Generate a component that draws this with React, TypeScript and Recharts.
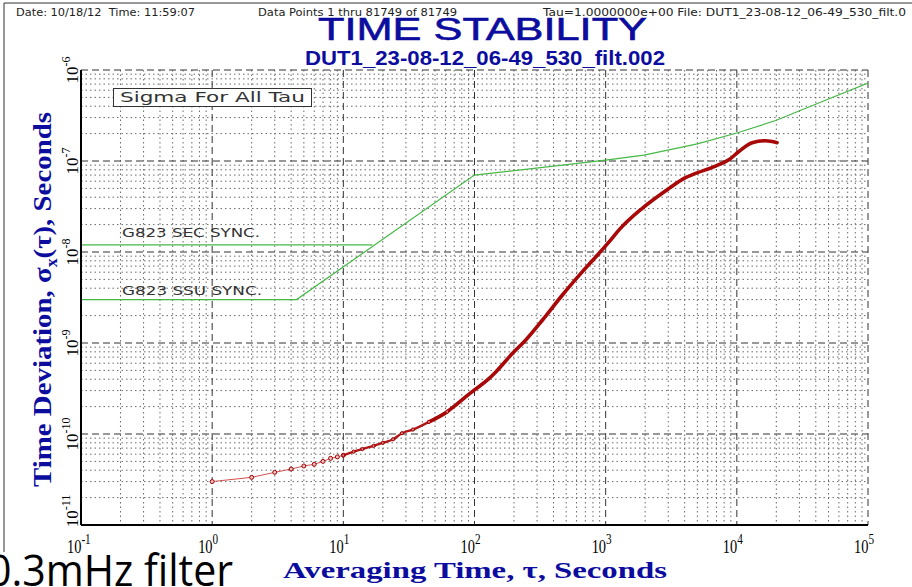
import React from "react";
import {
  LineChart,
  Line,
  XAxis,
  YAxis,
  CartesianGrid,
} from "recharts";

// decade ticks, labels are "10" + exponent
const xTickVals = [0.1, 1, 10, 100, 1000, 10000, 100000];
const xTickExp = ["-1", "0", "1", "2", "3", "4", "5"];
const yTickVals = [1e-11, 1e-10, 1e-9, 1e-8, 1e-7, 1e-6];
const yTickExp = ["-11", "-10", "-9", "-8", "-7", "-6"];

// measured TDEV, sparse start (markers visible)
const earlyTau = [1, 2, 3, 4, 5, 6, 7, 8, 9, 10];
const earlySigma = [
  3.0e-11, 3.34e-11, 3.79e-11, 4.12e-11, 4.45e-11, 4.64e-11, 5.0e-11, 5.4e-11,
  5.6e-11, 5.84e-11,
];

// markers start to crowd together
const midTau = [10, 12, 14, 17, 20, 24, 28, 34, 45, 62];
const midSigma = [
  5.84e-11, 6.4e-11, 6.84e-11, 7.4e-11, 8.0e-11, 8.75e-11, 1.02e-10, 1.12e-10,
  1.36e-10, 1.76e-10,
];

// measured TDEV, dense part (markers merge into a thick trace)
const denseTau = [
  45, 62, 72, 86, 100, 125, 146, 195, 246, 330, 468, 665, 891, 1094, 1265,
  1900, 3040, 3960, 4850, 6890, 8690, 10360, 13090, 16530, 20270,
];
const denseSigma = [
  1.36e-10, 1.76e-10, 2.08e-10, 2.57e-10, 3.05e-10, 3.9e-10, 4.84e-10,
  7.7e-10, 1.08e-9, 1.79e-9, 3.37e-9, 6.08e-9, 9.7e-9, 1.36e-8, 1.75e-8,
  3.02e-8, 5.0e-8, 6.45e-8, 7.3e-8, 8.8e-8, 1.03e-7, 1.27e-7, 1.59e-7,
  1.67e-7, 1.59e-7,
];

// G.823 masks
const ssuTau = [0.1, 4.4, 100, 1000, 1960, 5000, 10000, 20000, 50000, 100000];
const ssuSigma = [
  3e-9, 3e-9, 7.0e-8, 1.02e-7, 1.16e-7, 1.54e-7, 2.03e-7, 2.8e-7, 4.8e-7,
  7.2e-7,
];
const secTau = [0.1, 16.7];
const secSigma = [1.2e-8, 1.2e-8];

const zip = (t: number[], v: number[]) => t.map((tt, i) => ({ t: tt, v: v[i] }));

const minorX: number[] = [];
for (let d = -1; d < 5; d++) for (let m = 2; m <= 9; m++) minorX.push(m * Math.pow(10, d));
const minorY: number[] = [];
for (let d = -11; d < -6; d++) for (let m = 2; m <= 9; m++) minorY.push(m * Math.pow(10, d));

const SERIF = "'Liberation Serif', 'DejaVu Serif', serif";
const SANS = "'Liberation Sans', Arial, sans-serif";
const BLUE = "#0c0c9e";
const GREEN = "#45b845";

function XTick(props: any) {
  const { x, payload } = props;
  const i = xTickVals.indexOf(payload.value);
  // "10" ends at the tick, exponent hangs to the right
  return (
    <g transform={`translate(${x - 14} 553) scale(0.8 1)`}>
      <text x={0} y={0} fontFamily={SERIF} fontSize={18} fill="#000">
        10
        <tspan dy={-9} fontSize={14}>
          {xTickExp[i]}
        </tspan>
      </text>
    </g>
  );
}

function YTick(props: any) {
  const { y, payload } = props;
  const i = yTickVals.findIndex((v) => Math.abs(Math.log10(v) - Math.log10(payload.value)) < 1e-6);
  // bottom label is lifted so it stays inside the frame
  const cy = i === 0 ? y - 14 : y;
  return (
    <g transform={`translate(78 ${cy}) rotate(-90)`}>
      <text x={0} y={0} textAnchor="middle" fontFamily={SERIF} fontSize={17} fill="#000">
        10
        <tspan dy={-8} fontSize={12}>
          {yTickExp[i]}
        </tspan>
      </text>
    </g>
  );
}

export default function App() {
  return (
    <div
      style={{
        position: "fixed",
        left: 0,
        top: 0,
        width: 912,
        height: 587,
        background: "#fff",
        overflow: "hidden",
      }}
    >
      <LineChart
        width={912}
        height={587}
        margin={{ top: 70, right: 44, bottom: 0, left: 0 }}
        style={{ position: "absolute", left: 0, top: 0 }}
      >
        <CartesianGrid
          horizontalValues={minorY}
          verticalValues={minorX}
          stroke="#6a6a6a"
          strokeDasharray="1.5 3"
        />
        <CartesianGrid
          horizontalValues={yTickVals}
          verticalValues={xTickVals}
          stroke="#333"
          strokeDasharray="7 4"
        />
        <XAxis
          dataKey="t"
          type="number"
          scale="log"
          domain={[0.1, 100000]}
          allowDataOverflow
          ticks={xTickVals}
          interval={0}
          height={62}
          tick={<XTick />}
          tickLine={false}
          axisLine={{ stroke: "#000", strokeWidth: 2 }}
        />
        <XAxis
          xAxisId="top"
          orientation="top"
          type="number"
          scale="log"
          domain={[0.1, 100000]}
          height={0}
          tick={false}
          tickLine={false}
          axisLine={{ stroke: "#444", strokeWidth: 1 }}
        />
        <YAxis
          type="number"
          scale="log"
          domain={[1e-11, 1e-6]}
          allowDataOverflow
          ticks={yTickVals}
          interval={0}
          width={81}
          tick={<YTick />}
          tickLine={false}
          axisLine={{ stroke: "#000", strokeWidth: 2 }}
        />
        <YAxis
          yAxisId="right"
          orientation="right"
          type="number"
          scale="log"
          domain={[1e-11, 1e-6]}
          width={0}
          tick={false}
          tickLine={false}
          axisLine={{ stroke: "#444", strokeWidth: 1 }}
        />
        <Line
          data={zip(secTau, secSigma)}
          dataKey="v"
          type="linear"
          stroke={GREEN}
          strokeWidth={1.2}
          dot={false}
          isAnimationActive={false}
        />
        <Line
          data={zip(ssuTau, ssuSigma)}
          dataKey="v"
          type="linear"
          stroke={GREEN}
          strokeWidth={1.2}
          dot={false}
          isAnimationActive={false}
        />
        <Line
          data={zip(earlyTau, earlySigma)}
          dataKey="v"
          type="linear"
          stroke="#d05050"
          strokeWidth={1}
          dot={{ r: 2, stroke: "#a00000", strokeWidth: 1, fill: "#f0c0c0" }}
          isAnimationActive={false}
        />
        <Line
          data={zip(midTau, midSigma)}
          dataKey="v"
          type="monotone"
          stroke="#b01818"
          strokeWidth={2.4}
          strokeLinecap="round"
          dot={{ r: 1.6, stroke: "#a00000", strokeWidth: 1, fill: "#e08080" }}
          isAnimationActive={false}
        />
        <Line
          data={zip(denseTau, denseSigma)}
          dataKey="v"
          type="monotone"
          stroke="#a80808"
          strokeWidth={3.6}
          strokeLinecap="round"
          dot={false}
          isAnimationActive={false}
        />
      </LineChart>

      <svg
        width={912}
        height={587}
        style={{ position: "absolute", left: 0, top: 0, pointerEvents: "none" }}
      >
        {/* page frame */}
        <line x1={4} y1={3} x2={912} y2={3} stroke="#333" strokeWidth={1} />
        <line x1={4} y1={3} x2={4} y2={552} stroke="#333" strokeWidth={1} />

        {/* header */}
        <g fontFamily="'DejaVu Sans', sans-serif" fontSize={10} fill="#222">
          <text x={16} y={16} textLength={179} lengthAdjust="spacingAndGlyphs" xmlSpace="preserve">
            {"Date: 10/18/12  Time: 11:59:07"}
          </text>
          <text x={258} y={16} textLength={199} lengthAdjust="spacingAndGlyphs">
            Data Points 1 thru 81749 of 81749
          </text>
          <text x={543} y={16} textLength={363} lengthAdjust="spacingAndGlyphs">
            Tau=1.0000000e+00 File: DUT1_23-08-12_06-49_530_filt.0
          </text>
        </g>
        <text
          x={318}
          y={40}
          fontFamily={SANS}
          fontSize={32}
          fill={BLUE}
          stroke={BLUE}
          strokeWidth={0.6}
          textLength={329}
          lengthAdjust="spacingAndGlyphs"
        >
          TIME STABILITY
        </text>
        <text
          x={305}
          y={65}
          fontFamily={SANS}
          fontSize={20}
          fontWeight="bold"
          fill={BLUE}
          textLength={360}
          lengthAdjust="spacingAndGlyphs"
        >
          DUT1_23-08-12_06-49_530_filt.002
        </text>

        {/* in-plot annotations */}
        <rect x={113.5} y={88.5} width={198} height={18} fill="#fff" stroke="#333" strokeWidth={1} />
        <g fontFamily="'DejaVu Sans', sans-serif" fill="#333">
          <text x={120} y={102} fontSize={14} textLength={185} lengthAdjust="spacingAndGlyphs">
            Sigma For All Tau
          </text>
          <text x={122} y={237} fontSize={12} textLength={138} lengthAdjust="spacingAndGlyphs">
            G823 SEC SYNC.
          </text>
          <text x={122} y={295} fontSize={12} textLength={140} lengthAdjust="spacingAndGlyphs">
            G823 SSU SYNC.
          </text>
        </g>

        {/* axis titles */}
        <text
          x={283}
          y={578}
          fontFamily={SERIF}
          fontSize={24}
          fontWeight="bold"
          fill={BLUE}
          textLength={384}
          lengthAdjust="spacingAndGlyphs"
        >
          Averaging Time, τ, Seconds
        </text>
        <g transform="translate(51 487) rotate(-90)">
          <text
            x={0}
            y={0}
            fontFamily={SERIF}
            fontSize={26}
            fontWeight="bold"
            fill={BLUE}
            textLength={375}
            lengthAdjust="spacingAndGlyphs"
          >
            Time Deviation, σ<tspan fontSize={16} dy={6}>x</tspan>
            <tspan dy={-6}>(τ), Seconds</tspan>
          </text>
        </g>

        {/* slide caption */}
        <text
          x={-12}
          y={586}
          fontFamily="'Open Sans', 'Noto Sans', sans-serif"
          fontSize={44}
          fill="#000"
          textLength={245}
          lengthAdjust="spacingAndGlyphs"
        >
          0.3mHz filter
        </text>
      </svg>
    </div>
  );
}
